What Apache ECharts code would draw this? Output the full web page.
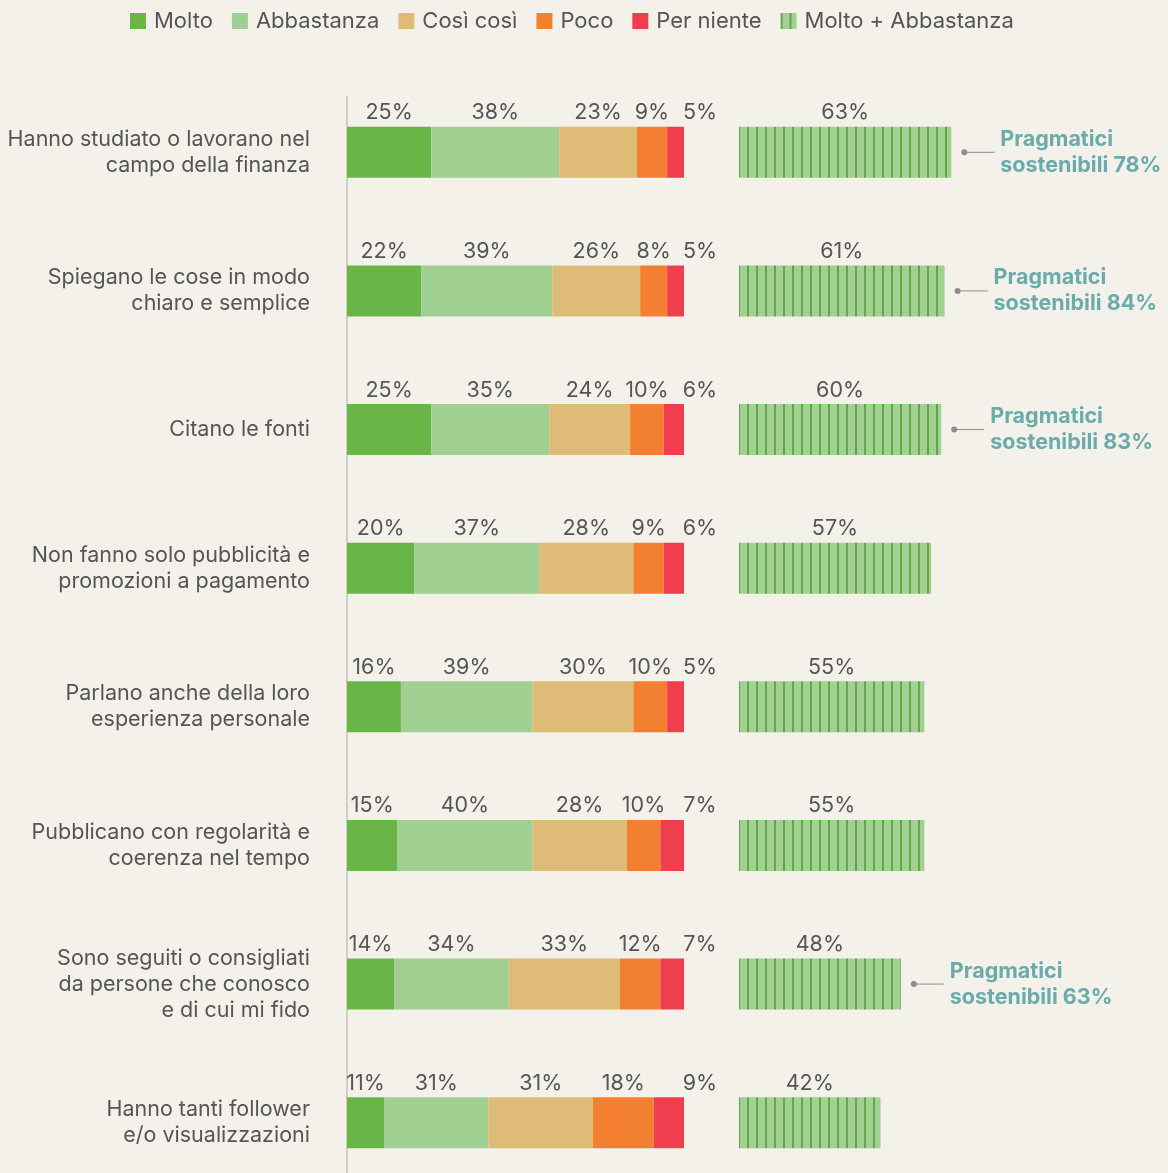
<!DOCTYPE html>
<html>
<head>
<meta charset="utf-8">
<script src="https://cdn.jsdelivr.net/npm/echarts@6/dist/echarts.min.js"></script>
<style>
  html, body { margin: 0; padding: 0; background: #f4f1ea; }
  #chart { width: 1168px; height: 1173px; }
</style>
</head>
<body>
<div id="chart"></div>
<script>
const categories = [
  'Hanno studiato o lavorano nel\ncampo della finanza',
  'Spiegano le cose in modo\nchiaro e semplice',
  'Citano le fonti',
  'Non fanno solo pubblicità e\npromozioni a pagamento',
  'Parlano anche della loro\nesperienza personale',
  'Pubblicano con regolarità e\ncoerenza nel tempo',
  'Sono seguiti o consigliati\nda persone che conosco\ne di cui mi fido',
  'Hanno tanti follower\ne/o visualizzazioni',
];

const molto = [25, 22, 25, 20, 16, 15, 14, 11];
const abbastanza = [38, 39, 35, 37, 39, 40, 34, 31];
const cosiCosi = [23, 26, 24, 28, 30, 28, 33, 31];
const poco = [9, 8, 10, 9, 10, 10, 12, 18];
const perNiente = [5, 5, 6, 6, 5, 7, 7, 9];
const moltoAbbastanza = [63, 61, 60, 57, 55, 55, 48, 42];
// quota "Pragmatici sostenibili" (solo dove indicata)
const pragmatici = [78, 84, 83, null, null, null, 63, null];

const colors = {
  molto: '#6ab547',
  abbastanza: '#a0cf92',
  cosi: '#dfbb78',
  poco: '#f28030',
  niente: '#ef3e4e',
  teal: '#6aabab',
  text: '#555555',
};

const FONT = 'Inter';

// motivo a righe verticali per "Molto + Abbastanza"
function stripePattern() {
  const c = document.createElement('canvas');
  c.width = 9;
  c.height = 10;
  const ctx = c.getContext('2d');
  ctx.fillStyle = '#a2d093';
  ctx.fillRect(0, 0, 9, 10);
  ctx.fillStyle = '#5ea946';
  ctx.fillRect(0, 0, 2, 10);
  return { image: c, repeat: 'repeat' };
}

const chart = echarts.init(document.getElementById('chart'), null, { renderer: 'canvas' });

function segLabel() {
  return {
    show: true,
    position: 'top',
    distance: 3,
    color: colors.text,
    fontFamily: FONT,
    fontSize: 21.5,
    formatter: (p) => p.value + '%',
  };
}

function stackSeries(name, data, color, label) {
  return {
    name,
    type: 'bar',
    stack: 'tot',
    xAxisIndex: 0,
    yAxisIndex: 0,
    barWidth: 51,
    itemStyle: { color },
    label: label || segLabel(),
    data,
  };
}

function renderNote(params, api) {
  const prag = api.value(2);
  if (prag == null || isNaN(prag)) return null;
  const end = api.coord([api.value(0), api.value(1)]);
  const dotX = end[0] + 13;
  const textX = dotX + 36;
  const y = end[1];
  return {
    type: 'group',
    children: [
      {
        type: 'line',
        shape: { x1: dotX, y1: y, x2: textX - 6, y2: y },
        style: { stroke: '#8c8c8c', lineWidth: 1 },
      },
      {
        type: 'circle',
        shape: { cx: dotX, cy: y, r: 3 },
        style: { fill: '#8c8c8c' },
      },
      {
        type: 'text',
        x: textX,
        y: y,
        style: {
          text: 'Pragmatici\nsostenibili ' + prag + '%',
          fill: colors.teal,
          font: 'bold 21.5px ' + FONT,
          lineHeight: 26,
          align: 'left',
          verticalAlign: 'middle',
        },
      },
    ],
  };
}

function getOption() {
  const gridTop = 83;
  const gridHeight = 1109;
  return {
    backgroundColor: '#f4f1ea',
    animation: false,
    textStyle: { fontFamily: FONT },
    legend: {
      left: 125,
      top: 5,
      itemWidth: 16,
      itemHeight: 16,
      itemGap: 19,
      icon: 'rect',
      textStyle: { color: colors.text, fontSize: 22, fontFamily: FONT, padding: [0, 0, 0, 3] },
      data: ['Molto', 'Abbastanza', 'Così così', 'Poco', 'Per niente', 'Molto + Abbastanza'],
    },
    grid: [
      { left: 347, top: gridTop, width: 337, height: gridHeight, outerBoundsMode: 'none' },
      { left: 739, top: gridTop, width: 337, height: gridHeight, outerBoundsMode: 'none' },
      // solo per la linea verticale di base
      { left: 347, top: 97, width: 337, bottom: 0, outerBoundsMode: 'none' },
    ],
    xAxis: [
      { gridIndex: 0, type: 'value', min: 0, max: 100, show: false },
      { gridIndex: 1, type: 'value', min: 0, max: 100, show: false },
      { gridIndex: 2, type: 'value', min: 0, max: 100, show: false },
    ],
    yAxis: [
      {
        gridIndex: 0,
        type: 'category',
        inverse: true,
        data: categories,
        axisLine: { show: false },
        axisTick: { show: false },
        axisLabel: {
          margin: 37,
          color: colors.text,
          fontSize: 21.5,
          lineHeight: 26,
          fontFamily: FONT,
          align: 'right',
        },
      },
      {
        gridIndex: 1,
        type: 'category',
        inverse: true,
        data: categories,
        show: false,
      },
      {
        gridIndex: 2,
        type: 'value',
        axisLine: { show: true, lineStyle: { color: '#d2cfc9', width: 2 } },
        axisTick: { show: false },
        axisLabel: { show: false },
        splitLine: { show: false },
      },
    ],
    series: [
      stackSeries('Molto', molto, colors.molto),
      stackSeries('Abbastanza', abbastanza, colors.abbastanza),
      stackSeries('Così così', cosiCosi, colors.cosi),
      stackSeries('Poco', poco, colors.poco),
      stackSeries('Per niente', perNiente, colors.niente, {
        ...segLabel(),
        position: ['100%', 0],
        offset: [16, -3],
        align: 'center',
        verticalAlign: 'bottom',
      }),
      {
        name: 'Molto + Abbastanza',
        type: 'bar',
        xAxisIndex: 1,
        yAxisIndex: 1,
        barWidth: 51,
        itemStyle: { color: stripePattern() },
        label: segLabel(),
        data: moltoAbbastanza,
      },
      {
        type: 'custom',
        xAxisIndex: 1,
        yAxisIndex: 1,
        silent: true,
        clip: false,
        renderItem: renderNote,
        encode: { x: 0, y: 1 },
        data: moltoAbbastanza.map((v, i) => [v, i, pragmatici[i] == null ? NaN : pragmatici[i]]),
      },
    ],
  };
}

chart.setOption(getOption());
</script>
</body>
</html>
